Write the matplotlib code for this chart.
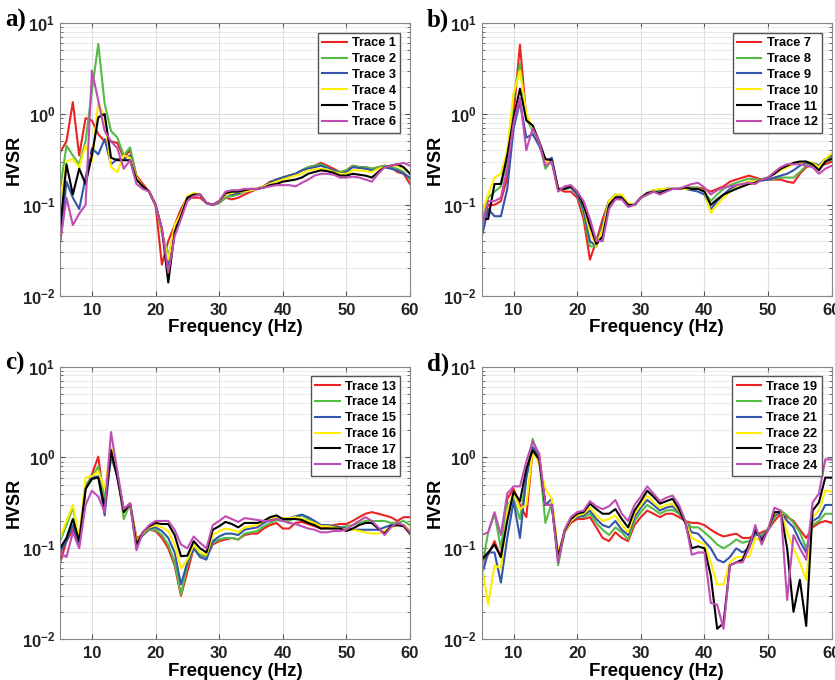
import numpy as np
import matplotlib.pyplot as plt

plt.rcParams['font.family'] = ['Liberation Sans', 'DejaVu Sans']
plt.rcParams['mathtext.fontset'] = 'custom'
plt.rcParams['mathtext.bf'] = 'Liberation Sans:bold'
plt.rcParams['mathtext.rm'] = 'Liberation Sans:bold'

freq = np.arange(5, 61)

# panel a
trace1 = [0.38, 0.5, 1.35, 0.35, 0.9, 0.85, 0.6, 0.5, 0.5, 0.48, 0.33, 0.4, 0.21, 0.17, 0.14, 0.1,
          0.022, 0.04, 0.06, 0.09, 0.12, 0.12, 0.12, 0.105, 0.1, 0.105, 0.12, 0.115, 0.12, 0.13, 0.14,
          0.15, 0.16, 0.18, 0.19, 0.2, 0.21, 0.22, 0.24, 0.26, 0.27, 0.29, 0.27, 0.25, 0.23, 0.24, 0.27,
          0.26, 0.26, 0.25, 0.26, 0.27, 0.26, 0.23, 0.22, 0.17]
trace2 = [0.15, 0.45, 0.35, 0.28, 0.5, 1.8, 5.9, 1.3, 0.65, 0.55, 0.35, 0.43, 0.2, 0.16, 0.14, 0.1,
          0.05, 0.028, 0.05, 0.075, 0.12, 0.13, 0.13, 0.105, 0.1, 0.105, 0.12, 0.125, 0.13, 0.14, 0.145,
          0.15, 0.16, 0.175, 0.19, 0.2, 0.21, 0.22, 0.24, 0.26, 0.27, 0.28, 0.26, 0.24, 0.23, 0.24, 0.27,
          0.26, 0.26, 0.25, 0.26, 0.27, 0.26, 0.25, 0.23, 0.19]
trace3 = [0.04, 0.18, 0.12, 0.09, 0.2, 0.42, 0.36, 0.53, 0.28, 0.32, 0.32, 0.35, 0.2, 0.16, 0.14, 0.1,
          0.05, 0.022, 0.055, 0.08, 0.12, 0.13, 0.13, 0.105, 0.1, 0.11, 0.13, 0.13, 0.135, 0.14, 0.145,
          0.15, 0.16, 0.175, 0.19, 0.2, 0.21, 0.22, 0.24, 0.25, 0.26, 0.27, 0.255, 0.24, 0.22, 0.23, 0.26,
          0.255, 0.25, 0.24, 0.25, 0.26, 0.25, 0.24, 0.22, 0.2]
trace4 = [0.1, 0.3, 0.32, 0.26, 0.45, 0.3, 1.35, 0.9, 0.26, 0.23, 0.35, 0.33, 0.2, 0.16, 0.14, 0.1,
          0.05, 0.025, 0.06, 0.08, 0.125, 0.135, 0.13, 0.105, 0.1, 0.11, 0.13, 0.135, 0.14, 0.14, 0.145,
          0.15, 0.16, 0.17, 0.18, 0.19, 0.2, 0.21, 0.22, 0.24, 0.245, 0.25, 0.245, 0.23, 0.22, 0.22, 0.24,
          0.24, 0.235, 0.23, 0.25, 0.26, 0.27, 0.27, 0.25, 0.23]
trace5 = [0.055, 0.28, 0.13, 0.25, 0.17, 0.35, 0.92, 1.0, 0.33, 0.31, 0.31, 0.31, 0.19, 0.16, 0.14, 0.1,
          0.055, 0.014, 0.05, 0.075, 0.12, 0.13, 0.13, 0.105, 0.1, 0.11, 0.135, 0.14, 0.14, 0.145, 0.15,
          0.15, 0.155, 0.165, 0.17, 0.18, 0.185, 0.19, 0.2, 0.22, 0.23, 0.24, 0.235, 0.225, 0.21, 0.21,
          0.22, 0.215, 0.21, 0.2, 0.23, 0.26, 0.27, 0.28, 0.26, 0.22]
trace6 = [0.038, 0.12, 0.06, 0.08, 0.1, 3.0, 1.4, 0.65, 0.5, 0.42, 0.25, 0.31, 0.17, 0.15, 0.14, 0.1,
          0.055, 0.018, 0.045, 0.07, 0.11, 0.125, 0.13, 0.105, 0.1, 0.11, 0.14, 0.145, 0.145, 0.15, 0.15,
          0.15, 0.155, 0.16, 0.165, 0.165, 0.165, 0.16, 0.175, 0.19, 0.21, 0.22, 0.22, 0.215, 0.2, 0.2,
          0.205, 0.2, 0.19, 0.18, 0.22, 0.26, 0.27, 0.28, 0.29, 0.27]

# panel b
trace7 = [0.06, 0.1, 0.1, 0.11, 0.2, 1.0, 5.8, 0.9, 0.7, 0.5, 0.3, 0.3, 0.15, 0.14, 0.14, 0.12,
          0.07, 0.025, 0.04, 0.07, 0.11, 0.125, 0.12, 0.1, 0.1, 0.12, 0.13, 0.14, 0.14, 0.15, 0.15,
          0.15, 0.155, 0.155, 0.155, 0.15, 0.14, 0.15, 0.16, 0.18, 0.19, 0.2, 0.21, 0.2, 0.19, 0.19,
          0.19, 0.19, 0.18, 0.175, 0.22, 0.26, 0.28, 0.27, 0.28, 0.3]
trace8 = [0.07, 0.12, 0.14, 0.16, 0.3, 1.6, 3.6, 0.9, 0.65, 0.5, 0.25, 0.31, 0.15, 0.15, 0.155, 0.13,
          0.08, 0.035, 0.035, 0.06, 0.11, 0.13, 0.125, 0.1, 0.1, 0.12, 0.13, 0.14, 0.14, 0.15, 0.15,
          0.15, 0.155, 0.155, 0.155, 0.14, 0.11, 0.13, 0.15, 0.165, 0.175, 0.185, 0.195, 0.19, 0.19,
          0.19, 0.195, 0.2, 0.2, 0.2, 0.23, 0.27, 0.29, 0.27, 0.3, 0.34]
trace9 = [0.045, 0.09, 0.075, 0.075, 0.15, 0.7, 1.35, 0.55, 0.6, 0.45, 0.3, 0.33, 0.15, 0.15, 0.155,
          0.13, 0.09, 0.04, 0.035, 0.06, 0.11, 0.13, 0.125, 0.1, 0.1, 0.12, 0.135, 0.145, 0.145, 0.15,
          0.15, 0.15, 0.15, 0.145, 0.14, 0.13, 0.09, 0.11, 0.13, 0.15, 0.16, 0.17, 0.18, 0.18, 0.185,
          0.19, 0.2, 0.21, 0.22, 0.24, 0.27, 0.29, 0.29, 0.27, 0.32, 0.35]
trace10 = [0.08, 0.13, 0.2, 0.22, 0.4, 1.7, 3.0, 1.0, 0.7, 0.5, 0.3, 0.3, 0.15, 0.15, 0.16, 0.14,
           0.1, 0.05, 0.035, 0.055, 0.11, 0.13, 0.13, 0.105, 0.1, 0.12, 0.135, 0.145, 0.15, 0.15, 0.15,
           0.15, 0.15, 0.15, 0.15, 0.14, 0.082, 0.1, 0.12, 0.14, 0.155, 0.17, 0.18, 0.18, 0.19, 0.2,
           0.22, 0.24, 0.26, 0.28, 0.29, 0.3, 0.29, 0.26, 0.32, 0.37]
trace11 = [0.07, 0.07, 0.17, 0.17, 0.35, 0.9, 1.9, 0.85, 0.75, 0.5, 0.32, 0.31, 0.15, 0.15, 0.16, 0.14,
           0.1, 0.06, 0.037, 0.045, 0.1, 0.12, 0.12, 0.1, 0.1, 0.12, 0.135, 0.14, 0.135, 0.145, 0.15,
           0.15, 0.155, 0.15, 0.15, 0.14, 0.1, 0.115, 0.13, 0.14, 0.15, 0.16, 0.17, 0.175, 0.19, 0.2,
           0.22, 0.25, 0.27, 0.29, 0.3, 0.3, 0.28, 0.24, 0.3, 0.32]
trace12 = [0.055, 0.11, 0.11, 0.12, 0.25, 0.8, 1.5, 0.4, 0.7, 0.5, 0.27, 0.3, 0.14, 0.16, 0.165, 0.14,
           0.11, 0.07, 0.04, 0.04, 0.09, 0.115, 0.115, 0.095, 0.1, 0.12, 0.13, 0.14, 0.13, 0.14, 0.15,
           0.15, 0.16, 0.17, 0.175, 0.155, 0.13, 0.145, 0.155, 0.16, 0.165, 0.17, 0.175, 0.17, 0.19,
           0.2, 0.23, 0.26, 0.28, 0.28, 0.28, 0.27, 0.26, 0.22, 0.25, 0.27]

# panel c
trace13 = [0.07, 0.12, 0.16, 0.11, 0.45, 0.65, 1.02, 0.3, 1.0, 0.65, 0.25, 0.31, 0.13, 0.14, 0.16,
           0.155, 0.13, 0.1, 0.065, 0.03, 0.055, 0.1, 0.085, 0.08, 0.11, 0.12, 0.125, 0.13, 0.125, 0.14,
           0.145, 0.145, 0.165, 0.18, 0.19, 0.165, 0.165, 0.19, 0.195, 0.185, 0.175, 0.165, 0.17, 0.18,
           0.185, 0.185, 0.2, 0.22, 0.24, 0.25, 0.24, 0.23, 0.22, 0.2, 0.22, 0.22]
trace14 = [0.12, 0.18, 0.28, 0.12, 0.5, 0.6, 0.8, 0.35, 0.95, 0.7, 0.21, 0.31, 0.12, 0.14, 0.16, 0.16,
           0.14, 0.11, 0.07, 0.031, 0.065, 0.1, 0.085, 0.08, 0.115, 0.125, 0.13, 0.13, 0.125, 0.145,
           0.15, 0.155, 0.175, 0.19, 0.205, 0.2, 0.2, 0.22, 0.23, 0.21, 0.195, 0.18, 0.18, 0.175, 0.17,
           0.175, 0.18, 0.19, 0.2, 0.2, 0.2, 0.2, 0.19, 0.19, 0.2, 0.18]
trace15 = [0.09, 0.12, 0.18, 0.11, 0.45, 0.6, 0.62, 0.23, 1.1, 0.6, 0.27, 0.31, 0.11, 0.14, 0.165,
           0.17, 0.155, 0.13, 0.09, 0.04, 0.07, 0.1, 0.08, 0.075, 0.12, 0.135, 0.145, 0.145, 0.14, 0.16,
           0.165, 0.17, 0.19, 0.205, 0.215, 0.215, 0.215, 0.225, 0.235, 0.22, 0.2, 0.18, 0.18, 0.175,
           0.17, 0.165, 0.16, 0.16, 0.16, 0.16, 0.16, 0.17, 0.18, 0.18, 0.18, 0.15]
trace16 = [0.13, 0.2, 0.3, 0.13, 0.6, 0.62, 0.7, 0.45, 1.3, 0.65, 0.25, 0.31, 0.12, 0.145, 0.17, 0.18,
           0.17, 0.155, 0.11, 0.06, 0.075, 0.11, 0.09, 0.085, 0.14, 0.155, 0.165, 0.16, 0.15, 0.17,
           0.175, 0.18, 0.2, 0.215, 0.22, 0.215, 0.215, 0.22, 0.21, 0.2, 0.19, 0.175, 0.175, 0.17, 0.165,
           0.16, 0.16, 0.155, 0.15, 0.145, 0.145, 0.155, 0.17, 0.18, 0.18, 0.16]
trace17 = [0.1, 0.13, 0.21, 0.12, 0.45, 0.58, 0.6, 0.28, 1.2, 0.6, 0.25, 0.31, 0.11, 0.15, 0.175, 0.19,
           0.185, 0.185, 0.14, 0.082, 0.083, 0.12, 0.1, 0.09, 0.16, 0.175, 0.195, 0.185, 0.17, 0.19,
           0.19, 0.19, 0.2, 0.22, 0.23, 0.21, 0.21, 0.21, 0.205, 0.19, 0.18, 0.165, 0.165, 0.165, 0.165,
           0.155, 0.165, 0.18, 0.19, 0.19, 0.165, 0.145, 0.175, 0.18, 0.175, 0.145]
trace18 = [0.09, 0.08, 0.15, 0.1, 0.3, 0.43, 0.37, 0.25, 1.9, 0.7, 0.27, 0.31, 0.095, 0.15, 0.18, 0.2,
           0.2, 0.2, 0.16, 0.11, 0.1, 0.135, 0.115, 0.1, 0.18, 0.2, 0.225, 0.21, 0.195, 0.215, 0.21,
           0.205, 0.2, 0.2, 0.21, 0.2, 0.19, 0.185, 0.175, 0.165, 0.16, 0.15, 0.15, 0.155, 0.155, 0.16,
           0.18, 0.2, 0.22, 0.2, 0.17, 0.14, 0.17, 0.19, 0.18, 0.15]

# panel d
trace19 = [0.07, 0.085, 0.12, 0.08, 0.35, 0.45, 0.3, 0.22, 1.2, 1.1, 0.3, 0.3, 0.08, 0.15, 0.19, 0.21,
           0.21, 0.22, 0.17, 0.13, 0.12, 0.15, 0.13, 0.12, 0.18, 0.22, 0.26, 0.24, 0.22, 0.24, 0.24,
           0.22, 0.2, 0.19, 0.19, 0.18, 0.16, 0.145, 0.135, 0.14, 0.145, 0.13, 0.13, 0.14, 0.15, 0.16,
           0.2, 0.24, 0.22, 0.2, 0.16, 0.13, 0.17, 0.19, 0.2, 0.19]
trace20 = [0.06, 0.15, 0.24, 0.1, 0.3, 0.35, 0.21, 0.6, 1.6, 1.0, 0.19, 0.32, 0.065, 0.15, 0.2, 0.23,
           0.22, 0.24, 0.19, 0.16, 0.14, 0.17, 0.15, 0.125, 0.2, 0.25, 0.3, 0.27, 0.24, 0.26, 0.265,
           0.24, 0.2, 0.17, 0.17, 0.15, 0.13, 0.11, 0.1, 0.11, 0.125, 0.115, 0.12, 0.14, 0.14, 0.16,
           0.22, 0.26, 0.23, 0.19, 0.15, 0.1, 0.18, 0.2, 0.24, 0.24]
trace21 = [0.05, 0.09, 0.09, 0.042, 0.13, 0.33, 0.13, 0.6, 1.3, 1.0, 0.3, 0.35, 0.075, 0.15, 0.2, 0.22,
           0.23, 0.26, 0.21, 0.18, 0.17, 0.2, 0.16, 0.14, 0.22, 0.28, 0.34, 0.3, 0.26, 0.28, 0.29, 0.25,
           0.2, 0.15, 0.145, 0.12, 0.1, 0.075, 0.07, 0.08, 0.1, 0.09, 0.1, 0.15, 0.13, 0.16, 0.23, 0.25,
           0.2, 0.17, 0.12, 0.09, 0.2, 0.22, 0.3, 0.3]
trace22 = [0.065, 0.024, 0.065, 0.06, 0.25, 0.42, 0.27, 0.3, 1.2, 0.85, 0.45, 0.35, 0.09, 0.15, 0.2,
           0.23, 0.24, 0.28, 0.23, 0.2, 0.21, 0.23, 0.18, 0.15, 0.24, 0.3, 0.38, 0.32, 0.28, 0.3, 0.31,
           0.26, 0.2, 0.13, 0.12, 0.11, 0.07, 0.04, 0.04, 0.07, 0.08, 0.08, 0.08, 0.13, 0.12, 0.16, 0.24,
           0.26, 0.15, 0.1, 0.07, 0.045, 0.22, 0.26, 0.43, 0.42]
trace23 = [0.075, 0.09, 0.11, 0.08, 0.2, 0.42, 0.33, 0.75, 1.2, 0.95, 0.3, 0.3, 0.08, 0.155, 0.21, 0.24,
           0.25, 0.31, 0.27, 0.24, 0.24, 0.27, 0.21, 0.17, 0.26, 0.33, 0.43, 0.37, 0.31, 0.33, 0.35,
           0.27, 0.19, 0.1, 0.105, 0.1, 0.05, 0.013, 0.015, 0.065, 0.07, 0.075, 0.11, 0.16, 0.12, 0.16,
           0.25, 0.25, 0.1, 0.02, 0.045, 0.014, 0.26, 0.32, 0.6, 0.6]
trace24 = [0.14, 0.15, 0.25, 0.14, 0.4, 0.48, 0.48, 0.9, 1.5, 1.1, 0.3, 0.3, 0.07, 0.16, 0.22, 0.25,
           0.26, 0.33, 0.29, 0.27, 0.29, 0.34, 0.24, 0.2, 0.3, 0.37, 0.48, 0.4, 0.33, 0.36, 0.38, 0.3,
           0.2, 0.085, 0.09, 0.09, 0.025, 0.024, 0.013, 0.065, 0.07, 0.07, 0.1, 0.18, 0.11, 0.16, 0.28,
           0.26, 0.027, 0.14, 0.1, 0.075, 0.32, 0.4, 0.95, 0.95]

panels = [
    ('a)', [trace1, trace2, trace3, trace4, trace5, trace6], 1),
    ('b)', [trace7, trace8, trace9, trace10, trace11, trace12], 7),
    ('c)', [trace13, trace14, trace15, trace16, trace17, trace18], 13),
    ('d)', [trace19, trace20, trace21, trace22, trace23, trace24], 19),
]
colors = ['#ee2222', '#55bb44', '#3355aa', '#ffee00', '#000000', '#c04cb4']

# axes boxes in figure fractions (left, bottom, width, height)
boxes = [[0.072, 0.565, 0.419, 0.401],
         [0.577, 0.565, 0.419, 0.401],
         [0.072, 0.060, 0.419, 0.401],
         [0.577, 0.060, 0.419, 0.401]]

fig = plt.figure(figsize=(8.35, 6.8), dpi=100)

for (letter, traces, first), box in zip(panels, boxes):
    ax = fig.add_axes(box)
    for k, tr in enumerate(traces):
        assert len(tr) == len(freq)
        ax.plot(freq, tr, color=colors[k], lw=1.5, label='Trace %d' % (first + k))
    ax.set_yscale('log')
    ax.set_xlim(5, 60)
    ax.set_ylim(1e-2, 1e1)
    ax.set_xticks([10, 20, 30, 40, 50, 60])
    ax.set_xticklabels(['10', '20', '30', '40', '50', '60'], fontsize=12, fontweight='bold')
    ax.set_yticks([1e-2, 1e-1, 1e0, 1e1])
    ax.set_yticklabels([r'$\mathbf{10^{-2}}$', r'$\mathbf{10^{-1}}$', r'$\mathbf{10^{0}}$',
                        r'$\mathbf{10^{1}}$'], fontsize=12)
    ax.grid(True, which='major', color='#dddddd', lw=0.8)
    ax.grid(True, which='minor', axis='y', color='#e6e6e6', lw=0.6)
    ax.tick_params(which='both', direction='in', top=True, right=True, colors='#555555',
                   labelcolor='#222222')
    ax.tick_params(axis='x', pad=5)
    for s in ax.spines.values():
        s.set_color('#888888')
    ax.set_xlabel('Frequency (Hz)', fontsize=13.5, fontweight='bold', labelpad=1)
    ax.set_ylabel('HVSR', fontsize=13, fontweight='bold')
    ax.yaxis.set_label_coords(-0.108, 0.5)
    leg = ax.legend(loc='upper right', prop={'weight': 'bold', 'size': 9.2},
                    fancybox=False, edgecolor='#555555', framealpha=1, handlelength=1.9,
                    borderaxespad=0.75, labelspacing=0.3, handletextpad=0.4, borderpad=0.35)
    leg.get_frame().set_linewidth(1.0)
    fig.text(box[0] - 0.066, box[1] + box[3] + 0.004, letter, fontsize=18, fontweight='bold',
             family='Liberation Serif', ha='left', va='center')

fig.savefig('out.png', dpi=100)
